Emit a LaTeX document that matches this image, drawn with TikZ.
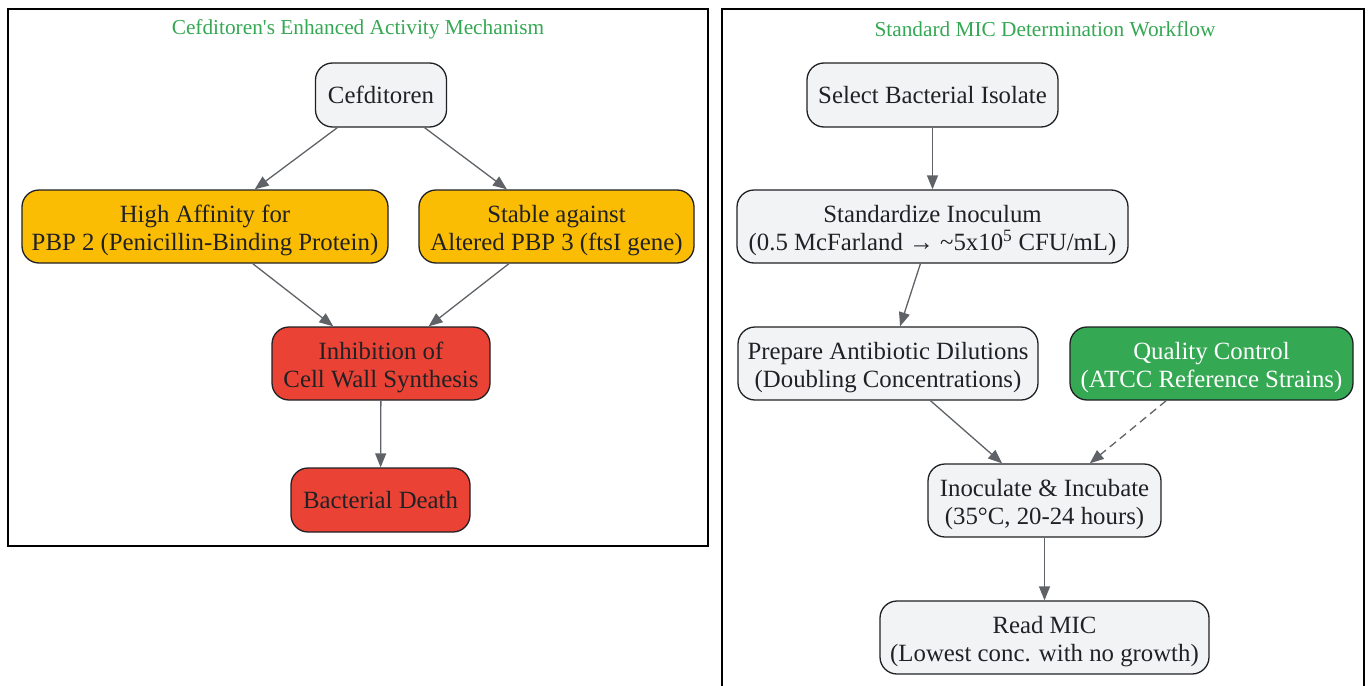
\documentclass[tikz,border=0pt]{standalone}
\usepackage{fontspec}
\setmainfont{Liberation Serif}
\usetikzlibrary{arrows.meta}
\definecolor{nodegray}{HTML}{F1F3F4}
\definecolor{orangefill}{HTML}{FBBC04}
\definecolor{redfill}{HTML}{EA4335}
\definecolor{greenfill}{HTML}{34A853}
\definecolor{edgegray}{HTML}{5F6368}
\definecolor{textdark}{HTML}{202124}
\newcommand{\toprule}{\rule{0pt}{26pt}}
\tikzset{
  box/.style={draw=textdark, line width=1.3pt, rounded corners=17pt, align=center,
    inner sep=0pt, text=textdark, font=\fontsize{24.8}{28}\selectfont},
  graybox/.style={box, fill=nodegray},
  orangebox/.style={box, fill=orangefill},
  redbox/.style={box, fill=redfill},
  greenbox/.style={box, fill=greenfill, text=white},
  conn/.style={draw=edgegray, line width=1.3pt, -{Triangle[length=14pt,width=11pt]}},
  frame/.style={draw=black, line width=1.6pt},
  paneltitle/.style={text=greenfill, font=\fontsize{21.3}{25}\selectfont, inner sep=0pt}
}
\begin{document}
\begin{tikzpicture}[x=1pt,y=-1pt]
\useasboundingbox (0,0) rectangle (1372,685);
% frames
\draw[frame] (8,9) rectangle (708,546);
\draw[frame] (722,690) -- (722,9) -- (1364,9) -- (1364,690);
\node[paneltitle] (t1) at (358,29) {Cefditoren\textquotesingle s Enhanced Activity Mechanism};
\node[paneltitle] (t2) at (1045,29) {Standard MIC Determination Workflow};
% left panel
\node[graybox, minimum width=131pt, minimum height=64pt] (cef) at (381,95) {Cefditoren};
\node[orangebox, minimum width=366pt, minimum height=73pt] (high) at (205,226.5) {\toprule High Affinity for\\PBP 2 (Penicillin-Binding Protein)};
\node[orangebox, minimum width=275pt, minimum height=73pt] (stable) at (556.5,226.5) {\toprule Stable against\\Altered PBP 3 (ftsI gene)};
\node[redbox, minimum width=218pt, minimum height=73pt] (inhib) at (381,363.5) {\toprule Inhibition of\\Cell Wall Synthesis};
\node[redbox, minimum width=179pt, minimum height=64pt] (death) at (380.5,500) {Bacterial Death};
% right panel
\node[graybox, minimum width=251pt, minimum height=64pt] (select) at (932.5,95) {Select Bacterial Isolate};
\node[graybox, minimum width=391pt, minimum height=73pt] (stand) at (932.5,226.5) {\toprule Standardize Inoculum\\(0.5 McFarland → \textasciitilde5x10\textsuperscript{5} CFU/mL)};
\node[graybox, minimum width=300pt, minimum height=73pt] (prep) at (888,363.5) {\toprule Prepare Antibiotic Dilutions\\(Doubling Concentrations)};
\node[greenbox, minimum width=283pt, minimum height=73pt] (qc) at (1211.5,363.5) {\toprule Quality Control\\(ATCC Reference Strains)};
\node[graybox, minimum width=233pt, minimum height=73pt] (inoc) at (1044.5,500.5) {\toprule Inoculate \& Incubate\\(35°C, 20-24 hours)};
\node[graybox, minimum width=329pt, minimum height=73pt] (read) at (1044.5,637.5) {\toprule Read MIC\\(Lowest conc. with no growth)};
% connectors
\draw[conn] (cef) -- (high);
\draw[conn] (cef) -- (stable);
\draw[conn] (high) -- (inhib);
\draw[conn] (stable) -- (inhib);
\draw[conn] (inhib) -- (death);
\draw[conn] (select) -- (stand);
\draw[conn] (stand) -- (prep);
\draw[conn] (prep) -- (inoc);
\draw[conn, dashed, dash pattern=on 8pt off 5pt] (qc) -- (inoc);
\draw[conn] (inoc) -- (read);
\end{tikzpicture}
\end{document}
